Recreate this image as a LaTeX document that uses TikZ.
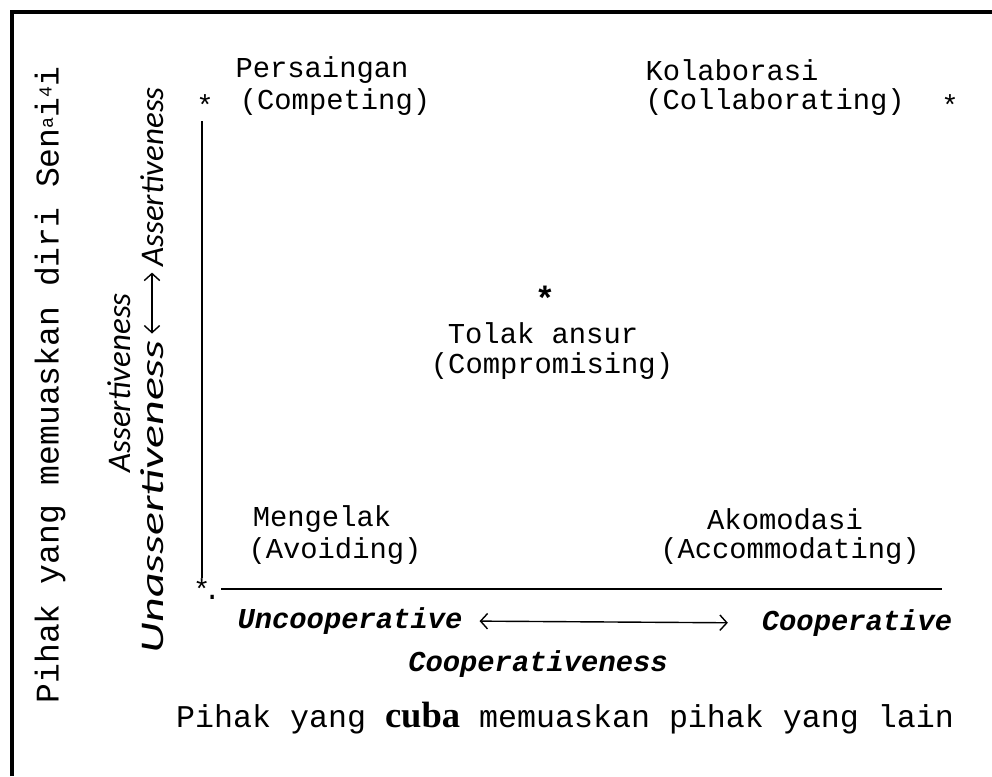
\documentclass[tikz,border=0pt]{standalone}
\usepackage{fontspec}
\usepackage{tikz}
\usetikzlibrary{arrows.meta,positioning}
\newfontfamily\monofont{Liberation Mono}
\newfontfamily\slimfont{Carlito}
\newfontfamily\romfont{Liberation Serif}

\begin{document}
\begin{tikzpicture}[x=0.025cm,y=-0.025cm,
    lbl/.style={font=\monofont\fontsize{20.5}{22}\selectfont,inner sep=0pt},
    axlbl/.style={font=\monofont\bfseries\itshape\fontsize{20.5}{22}\selectfont,inner sep=0pt},
    sidelbl/.style={font=\slimfont\itshape\fontsize{23.5}{25}\selectfont,inner sep=0pt,rotate=90},
    axis/.style={line width=2pt},
    dbl/.style={line width=1pt,{Straight Barb[length=5pt,width=11pt]}-{Straight Barb[length=5pt,width=11pt]}}]
    \useasboundingbox (0,0) rectangle (992,776);
    % frame
    \draw[line width=2.4pt] (12,776) -- (12,12) -- (992,12);
    % axes
    \node[lbl] (sorig) at (207,589) {*\kern-5pt.};
    \coordinate (ytop) at (202,121);
    \coordinate (xend) at (942,589);
    \draw[axis] (ytop) -- (ytop |- sorig.north);
    \draw[axis] (sorig.east) -- (xend);
    % corners
    \node[lbl] (scomp) at (205,105) {*};
    \node[lbl] (pers) at (322,70) {Persaingan};
    \node[lbl] (comp) at (335,102) {(Competing)};
    \node[lbl] (kola) at (732,70) {Kolaborasi};
    \node[lbl] (coll) at (775,102) {(Collaborating)};
    \node[lbl] (scoll) at (950,105) {*};
    \node[lbl,font=\monofont\bfseries\fontsize{24}{26}\selectfont] (smid) at (545,298) {*};
    \node[lbl] (tola) at (543,333) {Tolak ansur};
    \node[lbl] (compr) at (552,366) {(Compromising)};
    \node[lbl] (meng) at (322,519) {Mengelak};
    \node[lbl] (avoi) at (335,551) {(Avoiding)};
    \node[lbl] (akom) at (785,519) {Akomodasi};
    \node[lbl] (acco) at (790,551) {(Accommodating)};
    % horizontal axis labels
    \node[axlbl] (uncoop) at (350,621) {Uncooperative};
    \node[axlbl] (coop) at (857,623) {Cooperative};
    \node[axlbl] (coopn) at (538,664) {Cooperativeness};
    \draw[dbl,shorten <=12pt,shorten >=24pt] (uncoop.east) -- (coop.west);
    % vertical axis labels
    \node[sidelbl] (assn) at (119,383) {Assertiveness};
    \node[sidelbl] (unass) at (152,497) {\scalebox{1.45}[1]{Unassertiveness}};
    \node[sidelbl] (ass) at (152,177) {Assertiveness};
    \draw[dbl,shorten <=5pt,shorten >=4pt] (unass.east) -- (ass.west);
    % outer titles
    \node[lbl,font=\monofont\fontsize{23.5}{25}\selectfont,rotate=90] (self) at (50,385)
        {Pihak yang memuaskan diri Sen\raisebox{4pt}{\fontsize{13}{13}\selectfont a}i\raisebox{5pt}{\fontsize{13}{13}\selectfont 4}i};
    \node[lbl,font=\monofont\fontsize{22.5}{24}\selectfont] (other) at (565,718)
        {Pihak yang {\romfont\bfseries\fontsize{26}{27}\selectfont cuba} memuaskan pihak yang lain};
\end{tikzpicture}
\end{document}
